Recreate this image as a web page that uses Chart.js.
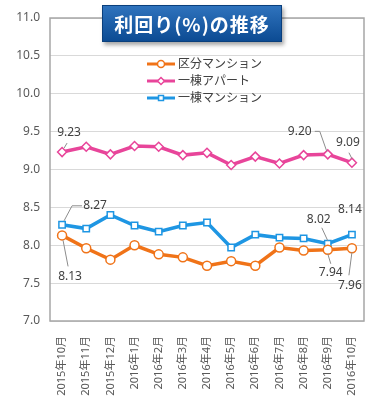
<!DOCTYPE html>
<html>
<head>
<meta charset="utf-8">
<script src="https://cdn.jsdelivr.net/npm/chart.js@4/dist/chart.umd.min.js"></script>
<style>
  html, body { margin: 0; padding: 0; background: #fff; }
  #wrap { position: relative; width: 384px; height: 401px; }
  #title {
    position: absolute; left: 102px; top: 5px; width: 178px; height: 35px;
    background: linear-gradient(#2f73bd, #0c4b93);
    border: 1px solid #0a3f7c;
    box-shadow: 2px 3px 4px rgba(0,0,0,0.35);
    color: #fff; font: bold 19px "Noto Sans CJK JP", sans-serif;
    text-align: center; line-height: 35px; letter-spacing: 1px;
    z-index: 2;
  }
</style>
</head>
<body>
<div id="wrap">
  <canvas id="chart" width="384" height="401"></canvas>
  <div id="title">利回り(%)の推移</div>
</div>
<script>
const months = ['2015年10月', '2015年11月', '2015年12月', '2016年1月', '2016年2月', '2016年3月',
  '2016年4月', '2016年5月', '2016年6月', '2016年7月', '2016年8月', '2016年9月', '2016年10月'];
const kubunMansion = [8.13, 7.96, 7.81, 8.00, 7.88, 7.84, 7.73, 7.79, 7.73, 7.97, 7.93, 7.94, 7.96];
const ittoApart = [9.23, 9.30, 9.20, 9.31, 9.30, 9.19, 9.22, 9.06, 9.17, 9.08, 9.19, 9.20, 9.09];
const ittoMansion = [8.27, 8.22, 8.40, 8.26, 8.18, 8.26, 8.30, 7.97, 8.14, 8.10, 8.09, 8.02, 8.14];
const yTicks = [7.0, 7.5, 8.0, 8.5, 9.0, 9.5, 10.0, 10.5, 11.0];

const font = '"Noto Sans", "Noto Sans CJK JP", sans-serif';

// data labels: dataset, index, text offset, leader path (offsets from point)
const callouts = [
  { ds: 1, i: 0, dx: 7, dy: -19, leader: [[2, -4], [5, -9]] },
  { ds: 1, i: 11, dx: -28, dy: -23, leader: [[-1, -3], [-8, -23], [-13, -23]] },
  { ds: 1, i: 12, dx: -4, dy: -20, leader: [[0, -4], [-3, -10]] },
  { ds: 2, i: 0, dx: 33, dy: -19, leader: [[2, -4], [10, -19], [20, -19]] },
  { ds: 2, i: 11, dx: -9, dy: -24, leader: [[0, -3], [-6, -16]] },
  { ds: 2, i: 12, dx: -2, dy: -25, leader: [] },
  { ds: 0, i: 0, dx: 8, dy: 41, leader: [[1, 5], [6, 31]] },
  { ds: 0, i: 11, dx: 3, dy: 23, leader: [[0, 4], [3, 14]] },
  { ds: 0, i: 12, dx: -2, dy: 37, leader: [[0, 4], [-3, 27]] }
];

const extras = {
  id: 'extras',
  beforeDatasetsDraw(chart) {
    const { ctx, chartArea: a } = chart;
    ctx.save();
    ctx.strokeStyle = '#a6a6a6';
    ctx.lineWidth = 1.5;
    ctx.strokeRect(a.left, a.top, a.right - a.left, a.bottom - a.top);
    ctx.restore();
  },
  afterDatasetsDraw(chart) {
    const ctx = chart.ctx;
    ctx.save();
    ctx.font = '12px ' + font;
    ctx.fillStyle = '#404040';
    ctx.textAlign = 'center';
    ctx.textBaseline = 'middle';
    callouts.forEach(c => {
      const p = chart.getDatasetMeta(c.ds).data[c.i];
      const ds = chart.data.datasets[c.ds];
      if (c.leader.length) {
        ctx.strokeStyle = '#8c8c8c';
        ctx.lineWidth = 1;
        ctx.beginPath();
        c.leader.forEach((o, k) => {
          if (k === 0) ctx.moveTo(p.x + o[0], p.y + o[1]);
          else ctx.lineTo(p.x + o[0], p.y + o[1]);
        });
        ctx.stroke();
      }
      ctx.fillText(ds.data[c.i].toFixed(2), p.x + c.dx, p.y + c.dy);
    });

    // legend inside plot area
    const lx = 147, ly = 64, gap = 17;
    chart.data.datasets.forEach((ds, k) => {
      const y = ly + k * gap;
      ctx.strokeStyle = ds.borderColor;
      ctx.lineWidth = 3;
      ctx.beginPath();
      ctx.moveTo(lx, y);
      ctx.lineTo(lx + 28, y);
      ctx.stroke();
      ctx.fillStyle = '#fff';
      ctx.lineWidth = 1.5;
      Chart.helpers.drawPoint(ctx, { pointStyle: ds.pointStyle, radius: 3.5, rotation: 0, borderWidth: 1.5 }, lx + 14, y);
      ctx.fillStyle = '#404040';
      ctx.textAlign = 'left';
      ctx.fillText(ds.label, lx + 31, y + 1);
    });
    ctx.restore();
  }
};

new Chart(document.getElementById('chart'), {
  type: 'line',
  data: {
    labels: months,
    datasets: [
      {
        label: '区分マンション', data: kubunMansion,
        borderColor: '#f07318', backgroundColor: '#fff',
        pointStyle: 'circle', pointRadius: 4.5, pointBorderWidth: 1.5
      },
      {
        label: '一棟アパート', data: ittoApart,
        borderColor: '#e8459a', backgroundColor: '#fff',
        pointStyle: 'rectRot', pointRadius: 4.5, pointBorderWidth: 1.5
      },
      {
        label: '一棟マンション', data: ittoMansion,
        borderColor: '#1e96e3', backgroundColor: '#fff',
        pointStyle: 'rect', pointRadius: 4.5, pointBorderWidth: 1.5
      }
    ]
  },
  options: {
    responsive: false,
    animation: false,
    elements: { line: { borderWidth: 3.5, tension: 0 } },
    layout: { padding: { top: 18, right: 20, left: 0, bottom: 0 } },
    plugins: { legend: { display: false }, tooltip: { enabled: false } },
    scales: {
      x: {
        offset: true,
        grid: { display: false },
        border: { display: false },
        afterFit: s => { s.height = 80; },
        ticks: {
          minRotation: 90, maxRotation: 90, autoSkip: false,
          color: '#595959', font: { family: font, size: 11 }, padding: 7
        }
      },
      y: {
        min: 7, max: 11,
        afterFit: s => { s.width = 50; },
        afterBuildTicks: s => { s.ticks = yTicks.map(v => ({ value: v })); },
        grid: { color: '#d9d9d9', drawTicks: false },
        border: { display: false },
        ticks: {
          color: '#595959', font: { family: font, size: 12 }, padding: 10,
          callback: v => v.toFixed(1)
        }
      }
    }
  },
  plugins: [extras]
});
</script>
</body>
</html>
